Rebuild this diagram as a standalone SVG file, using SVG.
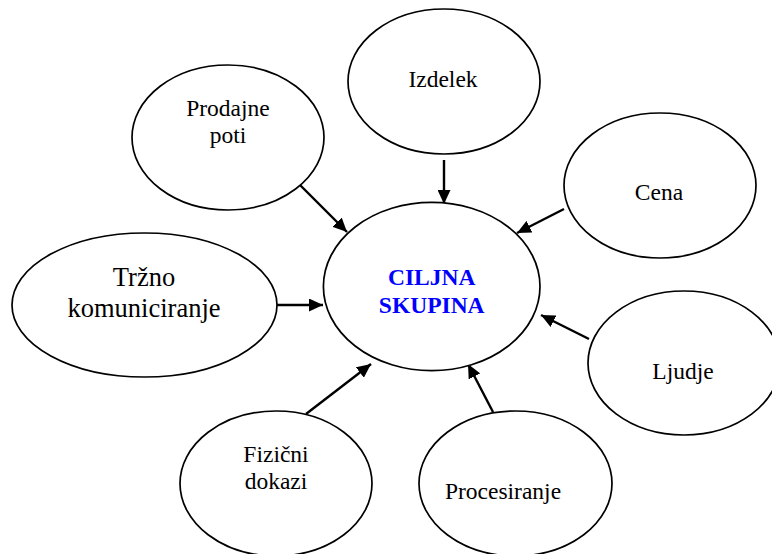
<svg xmlns="http://www.w3.org/2000/svg" width="772" height="554" viewBox="0 0 772 554">
<style>
.n ellipse{fill:#fff;stroke:#000;stroke-width:1.7}
text{font-size:23.5px;fill:#000;text-anchor:middle}
.c{font-weight:bold;fill:#0000FF}
.big{font-size:26.5px}
#connectors line{stroke:#000;stroke-width:2.4}
</style>
<defs>
<marker id="ah" viewBox="0 0 14 13" refX="14" refY="6.5" markerWidth="14" markerHeight="13" markerUnits="userSpaceOnUse" orient="auto">
<path d="M0,0 L14,6.5 L0,13 Z" fill="#000"/>
</marker>
</defs>
<rect width="772" height="554" fill="#fff"/>
<g id="connectors">
<line x1="444" y1="160" x2="444" y2="204" marker-end="url(#ah)"/>
<line x1="300" y1="185" x2="347" y2="232" marker-end="url(#ah)"/>
<line x1="564" y1="209" x2="517" y2="233" marker-end="url(#ah)"/>
<line x1="277" y1="305" x2="323" y2="305" marker-end="url(#ah)"/>
<line x1="589" y1="339" x2="541" y2="315" marker-end="url(#ah)"/>
<line x1="306" y1="414" x2="371" y2="364" marker-end="url(#ah)"/>
<line x1="493" y1="412" x2="468" y2="364" marker-end="url(#ah)"/>
</g>
<g font-family="'Liberation Serif', 'DejaVu Serif', serif">
<g id="center" class="n">
<ellipse cx="431.7" cy="286.5" rx="108.3" ry="84.2"/>
<text class="c" x="431.7" y="285">CILJNA</text>
<text class="c" x="431.7" y="313">SKUPINA</text>
</g>
<g id="izdelek" class="n">
<ellipse cx="444" cy="81.5" rx="96" ry="72.5"/>
<text x="443" y="87">Izdelek</text>
</g>
<g id="prodajne" class="n">
<ellipse cx="228" cy="137.5" rx="96" ry="72.5"/>
<text x="228" y="116">Prodajne</text>
<text x="228" y="143">poti</text>
</g>
<g id="cena" class="n">
<ellipse cx="660" cy="185.5" rx="96" ry="72.5"/>
<text x="659" y="200">Cena</text>
</g>
<g id="trzno" class="n">
<ellipse cx="144.5" cy="305" rx="132.5" ry="72"/>
<text class="big" x="144" y="286">Tržno</text>
<text class="big" x="144" y="317">komuniciranje</text>
</g>
<g id="ljudje" class="n">
<ellipse cx="684" cy="363" rx="96" ry="72"/>
<text x="683" y="379">Ljudje</text>
</g>
<g id="fizicni" class="n">
<ellipse cx="276" cy="483.5" rx="96" ry="72.5"/>
<text x="276" y="462">Fizični</text>
<text x="276" y="489">dokazi</text>
</g>
<g id="procesiranje" class="n">
<ellipse cx="515.5" cy="483.5" rx="96.5" ry="72.5"/>
<text x="503" y="499">Procesiranje</text>
</g>
</g>
</svg>
